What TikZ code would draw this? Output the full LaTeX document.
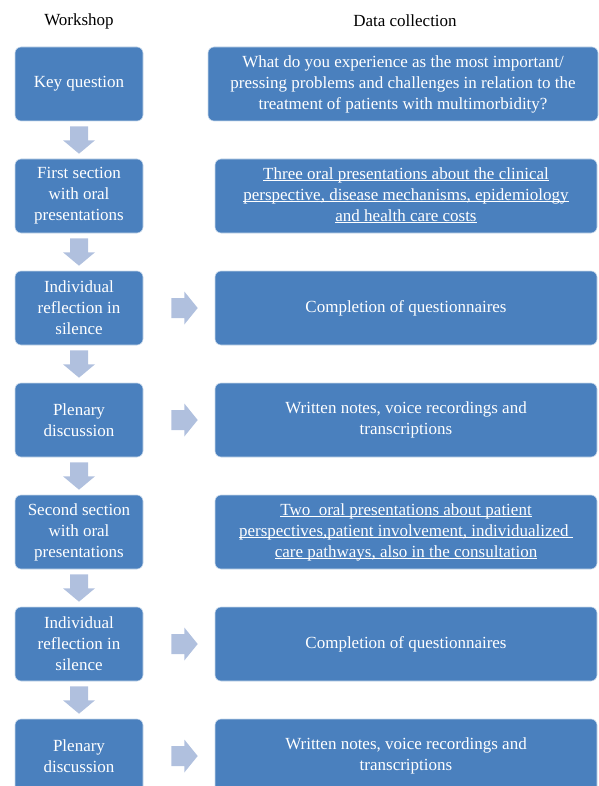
\documentclass[tikz,border=0pt]{standalone}
\usepackage{fontspec}
\setmainfont{Liberation Serif}
\usetikzlibrary{calc}
\definecolor{boxblue}{RGB}{74,128,190}
\definecolor{arrowblue}{RGB}{176,192,222}
\newcommand{\undl}[1]{\smash{\underline{\smash{#1}}}\strut}
% block arrow between two boxes, down
\newcommand{\downarr}[2]{%
 \fill[arrowblue] ($(#1.south)+(-9,5)$) -- ($(#1.south)+(9,5)$) -- ($(#1.south)+(9,19)$)
   -- ($(#1.south)+(16,19)$) -- ($(#2.north)+(0,-5)$) -- ($(#1.south)+(-16,19)$)
   -- ($(#1.south)+(-9,19)$) -- cycle;}
% block arrow between two boxes, right
\newcommand{\rightarr}[2]{%
 \fill[arrowblue] ($(#1.east)+(28,-10)$) -- ($(#1.east)+(41,-10)$) -- ($(#1.east)+(41,-16.5)$)
   -- ($(#2.west)+(-17,0)$) -- ($(#1.east)+(41,16.5)$) -- ($(#1.east)+(41,10)$)
   -- ($(#1.east)+(28,10)$) -- cycle;}

\begin{document}
\begin{tikzpicture}[x=1pt, y=-1pt,
  txt/.style={font=\fontsize{17}{21}\selectfont},
  box/.style={txt, draw=white!70!boxblue, line width=0.6pt, fill=boxblue, rounded corners=6pt,
    text=white, align=center, inner sep=2pt, minimum height=74pt},
  wsbox/.style={box, minimum width=128pt},
  databox/.style={box, minimum width=382pt}]
\useasboundingbox (0,0) rectangle (598,786);

\node[txt] (wstitle) at (79,21) {Workshop};
\node[txt] (dctitle) at (405,21) {Data collection};

% workshop column
\node[wsbox] (ws1) at (79,84)  {Key question};
\node[wsbox] (ws2) at (79,196) {First section\\with oral\\presentations};
\node[wsbox] (ws3) at (79,308) {Individual\\reflection in\\silence};
\node[wsbox] (ws4) at (79,420) {Plenary\\discussion};
\node[wsbox] (ws5) at (79,532) {Second section\\with oral\\presentations};
\node[wsbox] (ws6) at (79,644) {Individual\\reflection in\\silence};
\node[wsbox] (ws7) at (79,756) {Plenary\\discussion};

% data collection column
\node[databox, minimum width=390pt] (dc1) at (403,84)
  {What do you experience as the most important/\\pressing problems and challenges in relation to the\\treatment of patients with multimorbidity?};
\node[databox] (dc2) at (406,196)
  {\undl{Three oral presentations about the clinical}\\\undl{perspective, disease mechanisms, epidemiology}\\\undl{and health care costs}};
\node[databox] (dc3) at (406,308) {Completion of questionnaires};
\node[databox] (dc4) at (406,420) {Written notes, voice recordings and\\transcriptions};
\node[databox] (dc5) at (406,532)
  {\undl{Two\ \ oral presentations about patient}\\\undl{perspectives,patient involvement, individualized\ }\\\undl{care pathways, also in the consultation}};
\node[databox] (dc6) at (406,644) {Completion of questionnaires};
\node[databox] (dc7) at (406,756) {Written notes, voice recordings and\\transcriptions};

\foreach \a/\b in {1/2, 2/3, 3/4, 4/5, 5/6, 6/7}
  \downarr{ws\a}{ws\b};
\foreach \r in {3, 4, 6, 7}
  \rightarr{ws\r}{dc\r};
\end{tikzpicture}
\end{document}
